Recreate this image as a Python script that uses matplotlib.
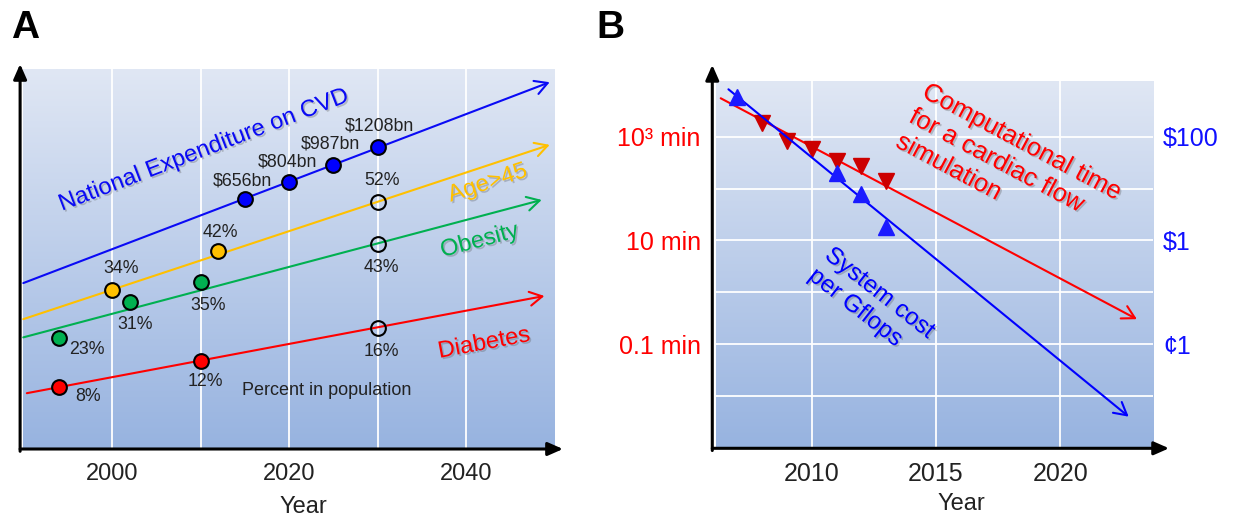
import numpy as np
import matplotlib.pyplot as plt
import matplotlib.patheffects as pe
from matplotlib.colors import LinearSegmentedColormap
from matplotlib.ticker import NullLocator

plt.rcParams['font.family'] = ['Liberation Sans', 'DejaVu Sans']

# ---- panel A: projections (levels are relative heights, 0-100)
cvd_years = [2015, 2020, 2025, 2030]
cvd_level = [65.8, 70.4, 74.8, 79.6]
cvd_text = ['$656bn', '$804bn', '$987bn', '$1208bn']

age_years = [2000, 2012, 2030]
age_level = [41.9, 52.2, 65.1]
age_text = ['34%', '42%', '52%']

obesity_years = [1994, 2002, 2010, 2030]
obesity_level = [29.3, 38.8, 43.9, 54.0]
obesity_text = ['23%', '31%', '35%', '43%']

diabetes_years = [1994, 2010, 2030]
diabetes_level = [16.2, 23.3, 31.8]
diabetes_text = ['8%', '12%', '16%']

# trend arrows: start year, start level, end year, end level
cvd_trend = [1990.0, 43.7, 2049.4, 96.6]
age_trend = [1990.0, 34.2, 2049.4, 80.1]
obesity_trend = [1990.0, 29.4, 2048.5, 65.6]
diabetes_trend = [1990.4, 14.7, 2048.8, 40.3]

# ---- panel B: simulation time (minutes) and system cost ($ per Gflops)
sim_years = [2008, 2009, 2010, 2011, 2012, 2013]
sim_minutes = [1810, 837, 580, 345, 276, 140]
sim_trend = [2006.34, 5500, 2023.08, 0.303]

cost_years = [2007, 2011, 2012, 2013]
cost_dollars = [589, 19.7, 7.87, 1.85]
cost_trend = [2006.65, 819, 2022.75, 4.0e-4]

time_ticks = [1000, 10, 0.1]
time_labels = ['10³ min', '10 min', '0.1 min']
cost_ticks = [100, 1, 0.01]
cost_labels = ['$100', '$1', '¢1']

W, H = 1233, 519
fig = plt.figure(figsize=(W / 100, H / 100), dpi=100)
bg_cmap = LinearSegmentedColormap.from_list('bg', ['#97B3E0', '#E0E7F4'])
shadow = [pe.withSimplePatchShadow(offset=(1.2, -1.2), shadow_rgbFace='#555555', alpha=0.3)]
TXT = '#222222'


def esc(s):
    return s.replace('$', r'\$')


def panel(left, top, right, bottom):
    rect = [left / W, 1 - bottom / H, (right - left) / W, (bottom - top) / H]
    bg = fig.add_axes(rect, zorder=0)
    bg.imshow(np.linspace(0, 1, 256)[:, None], cmap=bg_cmap, aspect='auto',
              origin='lower', extent=[0, 1, 0, 1])
    bg.set_axis_off()
    ax = fig.add_axes(rect, zorder=1)
    ax.patch.set_visible(False)
    for s in ax.spines.values():
        s.set_visible(False)
    ax.tick_params(length=0)
    return ax


def axis_arrows(ax, x0, y_top, x_right):
    kw = dict(arrowstyle='-|>,head_length=0.5,head_width=0.22', color='black',
              lw=2.2, mutation_scale=18, shrinkA=0, shrinkB=0)
    ax.annotate('', xy=(x0, y_top), xytext=(x0, -0.006), xycoords='axes fraction',
                arrowprops=kw, annotation_clip=False)
    ax.annotate('', xy=(x_right, 0), xytext=(x0, 0), xycoords='axes fraction',
                arrowprops=kw, annotation_clip=False)


def trend(ax, tr, color):
    ax.annotate('', xy=(tr[2], tr[3]), xytext=(tr[0], tr[1]),
                arrowprops=dict(arrowstyle='->,head_length=0.45,head_width=0.25',
                                color=color, lw=1.5, mutation_scale=20,
                                shrinkA=0, shrinkB=0))


def line_angle(ax, tr):
    p0 = ax.transData.transform((tr[0], tr[1]))
    p1 = ax.transData.transform((tr[2], tr[3]))
    return np.degrees(np.arctan2(p1[1] - p0[1], p1[0] - p0[0]))


# ================= panel A =================
axA = panel(23.3, 69.3, 555, 449)
axA.set_xlim(1990, 2050)
axA.set_ylim(0, 100)
axA.set_xticks([2000, 2010, 2020, 2030, 2040])
axA.set_xticklabels(['2000', '', '2020', '', '2040'], fontsize=17, color=TXT)
axA.set_yticks([])
axA.tick_params(axis='x', pad=10)
axA.grid(axis='x', color='white', lw=1.3)
axA.set_axisbelow(True)
axis_arrows(axA, -0.006, 1.014, 1.015)

series = [
    (cvd_years, cvd_level, cvd_text, cvd_trend, '#0A0AF5', '#0000FF', 0,
     [(-2, 18), (-2, 20), (-3, 21), (2, 21)],
     'National Expenditure on CVD', (2010.4, 78.7)),
    (age_years, age_level, age_text, age_trend, '#FFC000', '#FFC000', 1,
     [(9, 21), (2, 18), (4, 21)], 'Age>45', (2042.4, 70.0)),
    (obesity_years, obesity_level, obesity_text, obesity_trend, '#00B050', '#00B050', 1,
     [(28, -12), (5, -23), (8, -23), (4, -24)], 'Obesity', (2041.5, 54.8)),
    (diabetes_years, diabetes_level, diabetes_text, diabetes_trend, '#FF0000', '#FF0000', 1,
     [(29, -9), (5, -21), (4, -23)], 'Diabetes', (2042.0, 27.8)),
]

for years, level, texts, tr, lc, mc, n_open, offs, name, pos in series:
    trend(axA, tr, lc)
    n = len(years)
    n_fill = n - n_open if n_open else n
    axA.plot(years[:n_fill], level[:n_fill], 'o', ms=10.6, mfc=mc, mec='black',
             mew=1.5, zorder=4)
    if n_open:
        axA.plot(years[n_fill:], level[n_fill:], 'o', ms=10.6, mfc='none', mec='black',
                 mew=1.5, zorder=4)
    for x, y, t, o in zip(years, level, texts, offs):
        axA.annotate(esc(t), (x, y), xytext=o, textcoords='offset pixels',
                     ha='center', va='center', fontsize=12.8, color=TXT)
    axA.text(pos[0], pos[1], name, color=lc, fontsize=17, ha='center', va='center',
             rotation=line_angle(axA, tr), rotation_mode='anchor', path_effects=shadow)

axA.text(2024.25, 15.5, 'Percent in population', fontsize=13, color=TXT,
         ha='center', va='center')
axA.text(0.526, -0.153, 'Year', transform=axA.transAxes, fontsize=17, color=TXT,
         ha='center', va='center')

# ================= panel B =================
axB = panel(716, 80.7, 1153.3, 448.3)
axB.set_yscale('log')
axB.set_xlim(2006.15, 2023.74)
axB.set_ylim(10 ** -3.008, 10 ** 4.079)
axB.set_xticks([2010, 2015, 2020])
axB.set_xticklabels(['2010', '2015', '2020'], fontsize=18, color=TXT)
grid_vals = [0.01, 0.1, 1, 10, 100, 1000]
axB.set_yticks(grid_vals)
axB.set_yticklabels([time_labels[time_ticks.index(v)] if v in time_ticks else ''
                     for v in grid_vals], fontsize=18, color='#FF0000')
axB.yaxis.set_minor_locator(NullLocator())
axB.tick_params(axis='x', pad=10)
axB.tick_params(axis='y', pad=11)
axB.grid(True, color='white', lw=1.3)
axB.set_axisbelow(True)
axis_arrows(axB, -0.0085, 1.043, 1.036)

axR = axB.twinx()
axR.set_zorder(2)
axR.set_yscale('log')
axR.set_ylim(10 ** -4.008, 10 ** 3.079)
axR.set_yticks(cost_ticks)
axR.set_yticklabels([esc(t) for t in cost_labels], fontsize=18, color='#1010FF')
axR.yaxis.set_minor_locator(NullLocator())
axR.tick_params(length=0, pad=7)
for s in axR.spines.values():
    s.set_visible(False)

trend(axB, sim_trend, '#FF0000')
axB.plot(sim_years, sim_minutes, 'v', ms=11.5, color='#CC0000', zorder=4)
trend(axR, cost_trend, '#0000FF')
axR.plot(cost_years, cost_dollars, '^', ms=11.5, color='#1A1AFF', zorder=4)

axB.text(2014.75, 10 ** 4.10, 'Computational time\nfor a cardiac flow\nsimulation',
         color='#FF0000', fontsize=18.5, ha='left', va='top', ma='left',
         rotation=line_angle(axB, sim_trend), rotation_mode='anchor',
         linespacing=1.22, path_effects=shadow)
axB.text(2010.9, 10 ** 0.93, 'System cost\nper Gflops', color='#0000FF',
         fontsize=17.5, ha='left', va='top', ma='left', rotation=-38,
         rotation_mode='anchor', linespacing=1.25, path_effects=shadow)
axB.text(0.562, -0.1515, 'Year', transform=axB.transAxes, fontsize=17, color=TXT,
         ha='center', va='center')

fig.text(25 / W, 1 - 28 / H, 'A', fontsize=28, fontweight='bold', ha='center', va='center')
fig.text(610 / W, 1 - 28 / H, 'B', fontsize=28, fontweight='bold', ha='center', va='center')

fig.savefig('out.png', dpi=100)
